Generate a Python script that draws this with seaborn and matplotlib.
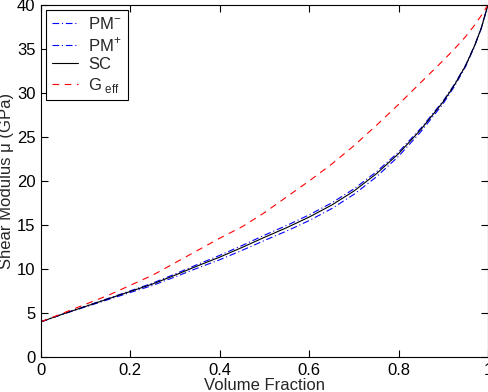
import numpy as np
import pandas as pd
import seaborn as sns
import matplotlib.pyplot as plt

# volume fraction samples
vol_frac = [0.0, 0.05, 0.1, 0.15, 0.2, 0.25, 0.3, 0.35, 0.4, 0.45, 0.5, 0.55,
            0.6, 0.65, 0.7, 0.75, 0.8, 0.85, 0.9, 0.925, 0.95, 0.97, 0.985, 1.0]

# shear modulus estimates (GPa)
sc = [4.0, 4.9, 5.75, 6.6, 7.45, 8.3, 9.3, 10.35, 11.35, 12.45, 13.6, 14.7,
      15.9, 17.25, 18.85, 20.8, 23.1, 25.85, 29.0, 30.9, 33.1, 35.35, 37.35, 40.0]
pm_minus = [4.0, 4.88, 5.7, 6.52, 7.33, 8.14, 9.1, 10.1, 11.05, 12.12, 13.24, 14.32,
            15.5, 16.85, 18.47, 20.45, 22.8, 25.6, 28.8, 30.75, 33.0, 35.29, 37.32, 40.0]
pm_plus = [4.0, 4.91, 5.78, 6.65, 7.52, 8.4, 9.43, 10.51, 11.55, 12.67, 13.84, 14.95,
           16.15, 17.5, 19.09, 21.02, 23.28, 26.0, 29.1, 30.98, 33.15, 35.38, 37.36, 40.0]
g_eff = [4.0, 5.0, 6.0, 7.0, 8.15, 9.3, 10.7, 12.1, 13.5, 14.8, 16.4, 18.2,
         20.0, 21.9, 24.0, 26.3, 28.7, 31.2, 33.7, 35.0, 36.4, 37.7, 38.8, 40.0]

sns.set_style("ticks")
plt.rcParams['font.family'] = ['Liberation Sans', 'DejaVu Sans']
plt.rcParams['mathtext.fontset'] = 'custom'
plt.rcParams['mathtext.rm'] = 'Liberation Sans'


def main():
    fig = plt.figure(figsize=(4.89, 3.92), dpi=100)
    ax = fig.add_axes([0.0838, 0.0893, 0.914, 0.898])

    series = [
        (pm_minus, 'PM$^{-}$', 'blue', (0, (6, 2.5, 1, 2.5))),
        (pm_plus, 'PM$^{+}$', 'blue', (0, (6, 2.5, 1, 2.5))),
        (sc, 'SC', 'black', '-'),
        (g_eff, 'G$_{\\rm\\ eff}$', 'red', (0, (6, 5))),
    ]
    for vals, label, color, ls in series:
        df = pd.DataFrame({'x': vol_frac, 'y': vals})
        sns.lineplot(data=df, x='x', y='y', ax=ax, color=color, linestyle=ls,
                     linewidth=0.8, label=label)

    ax.set_xlim(0, 1)
    ax.set_ylim(0, 40)
    ax.set_xticks([0, 0.2, 0.4, 0.6, 0.8, 1])
    ax.set_xticklabels(['0', '0.2', '0.4', '0.6', '0.8', '1'])
    ax.set_yticks(range(0, 41, 5))
    ax.tick_params(direction='in', top=True, right=True, length=5, width=0.8,
                   labelsize=12, pad=4, colors='black')
    for sp in ax.spines.values():
        sp.set_linewidth(0.8)
        sp.set_color('black')
    ax.set_xlabel('Volume Fraction', fontsize=12, labelpad=0)
    ax.set_ylabel('Shear Modulus μ (GPa)', fontsize=12, labelpad=2)

    leg = ax.legend(loc='upper left', fontsize=12, frameon=True, fancybox=False,
                    edgecolor='black', framealpha=1, borderaxespad=0.3,
                    handlelength=1.6, handletextpad=0.6, labelspacing=0.2,
                    borderpad=0.35)
    leg.get_frame().set_linewidth(0.8)

    fig.savefig('out.png', dpi=100)
    plt.close(fig)


if __name__ == '__main__':
    main()
